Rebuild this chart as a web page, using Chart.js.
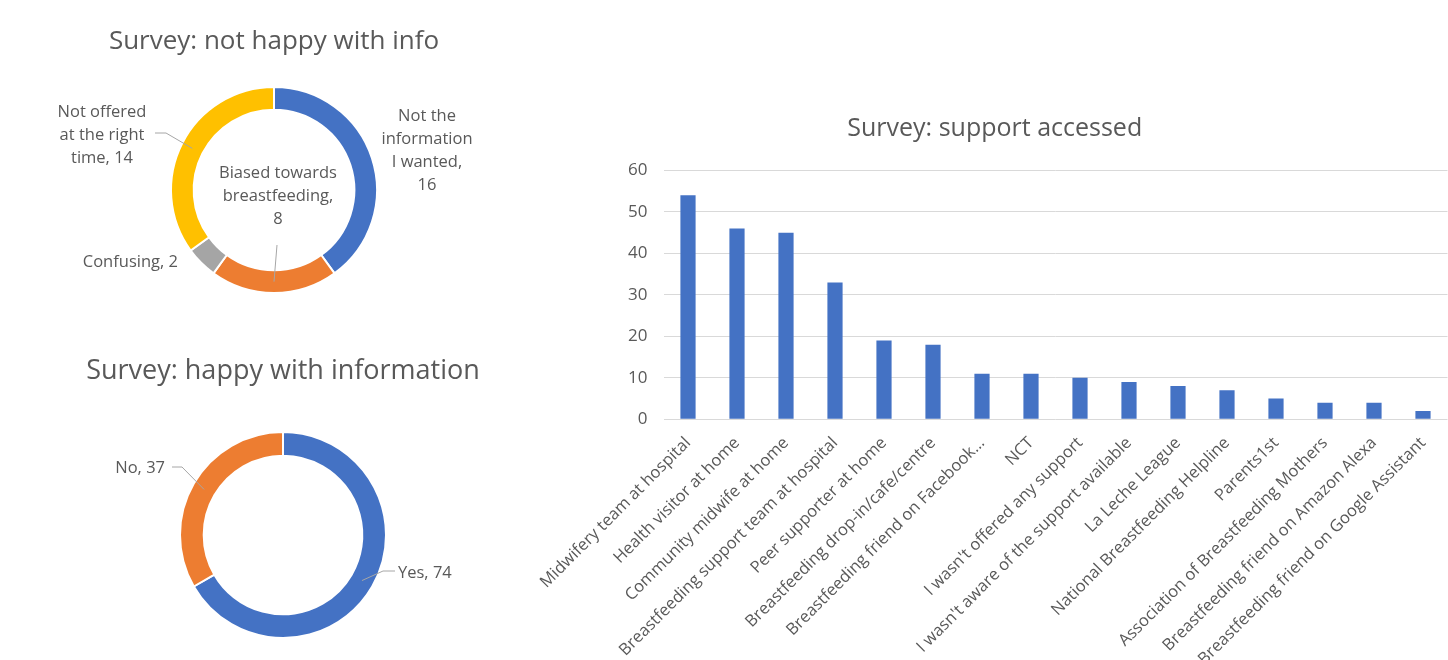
<!DOCTYPE html>
<html>
<head>
<meta charset="utf-8">
<title>Survey results</title>
<script src="https://cdn.jsdelivr.net/npm/chart.js@4"></script>
<style>
	html, body { margin: 0; padding: 0; background: #ffffff; }
	#page { position: relative; width: 1448px; height: 660px; overflow: hidden; background: #ffffff; }
	canvas { position: absolute; }
	#not-happy-chart { left: 0; top: 0; }
	#happy-chart { left: 0; top: 330px; }
	#support-chart { left: 520px; top: 100px; }
</style>
</head>
<body>
<div id="page">
	<canvas id="support-chart" width="928" height="560"></canvas>
	<canvas id="not-happy-chart" width="548" height="330"></canvas>
	<canvas id="happy-chart" width="566" height="330"></canvas>
</div>

<script>
// Survey data
const notHappyLabels = ['Not the information I wanted', 'Biased towards breastfeeding', 'Confusing', 'Not offered at the right time'];
const notHappyValues = [16, 8, 2, 14];

const happyLabels = ['Yes', 'No'];
const happyValues = [74, 37];

const supportLabels = [
	'Midwifery team at hospital',
	'Health visitor at home',
	'Community midwife at home',
	'Breastfeeding support team at hospital',
	'Peer supporter at home',
	'Breastfeeding drop-in/cafe/centre',
	'Breastfeeding friend on Facebook...',
	'NCT',
	'I wasn\'t offered any support',
	'I wasn\'t aware of the support available',
	'La Leche League',
	'National Breastfeeding Helpline',
	'Parents1st',
	'Association of Breastfeeding Mothers',
	'Breastfeeding friend on Amazon Alexa',
	'Breastfeeding friend on Google Assistant'
];
const supportValues = [54, 46, 45, 33, 19, 18, 11, 11, 10, 9, 8, 7, 5, 4, 4, 2];

const supportTicks = [0, 10, 20, 30, 40, 50, 60];

const BLUE = '#4472C4';
const ORANGE = '#ED7D31';
const GREY = '#A5A5A5';
const YELLOW = '#FFC000';
const TEXT = '#595959';

Chart.defaults.font.family = '"Open Sans", sans-serif';
Chart.defaults.color = TEXT;

/**
 * Break a label into lines no wider than maxWidth
 */
function wrapLines(ctx, text, maxWidth) {
	const words = text.split(' ');
	const lines = [];
	let cur = '';
	for (const w of words) {
		const t = cur ? cur + ' ' + w : w;
		if (cur && ctx.measureText(t).width > maxWidth) {
			lines.push(cur);
			cur = w;
		} else {
			cur = t;
		}
	}
	if (cur) lines.push(cur);
	return lines;
}

/**
 * Draws "label, value" next to each slice, with optional leader lines
 */
const sliceLabels = {
	id: 'sliceLabels',
	afterDatasetsDraw(chart, args, opts) {
		const ctx = chart.ctx;
		const meta = chart.getDatasetMeta(0);
		const values = chart.data.datasets[0].data;
		const lh = opts.lineHeight;

		ctx.save();
		ctx.font = `${opts.size}px "Open Sans", sans-serif`;
		ctx.fillStyle = TEXT;
		ctx.strokeStyle = '#a6a6a6';
		ctx.lineWidth = 1;
		ctx.textBaseline = 'middle';

		meta.data.forEach((arc, i) => {
			const place = opts.placement[i];
			const cx = arc.x;
			const cy = arc.y;
			const name = chart.data.labels[i];

			let lines;
			if (place.valueBreak) {
				lines = wrapLines(ctx, name + ',', place.maxWidth);
				lines.push(String(values[i]));
			} else {
				lines = wrapLines(ctx, `${name}, ${values[i]}`, place.maxWidth);
			}

			if (place.leader) {
				const end = arc.tooltipPosition(true);
				ctx.beginPath();
				ctx.moveTo(cx + place.leader[0][0], cy + place.leader[0][1]);
				for (let k = 1; k < place.leader.length; k++) {
					ctx.lineTo(cx + place.leader[k][0], cy + place.leader[k][1]);
				}
				ctx.lineTo(end.x, end.y);
				ctx.stroke();
			}

			ctx.textAlign = place.align;
			const top = cy + place.dy - (lines.length - 1) * lh / 2;
			lines.forEach((ln, k) => ctx.fillText(ln, cx + place.dx, top + k * lh));
		});
		ctx.restore();
	}
};

function doughnutConfig(labels, values, colors, opts) {
	return {
		type: 'doughnut',
		data: {
			labels: labels,
			datasets: [{
				data: values,
				backgroundColor: colors,
				borderColor: '#ffffff',
				borderWidth: 2,
				hoverOffset: 0,
				radius: 103,
				cutout: opts.cutout
			}]
		},
		options: {
			responsive: false,
			animation: false,
			layout: { padding: { bottom: opts.padBottom } },
			plugins: {
				legend: { display: false },
				tooltip: { enabled: false },
				title: {
					display: true,
					text: opts.title,
					color: TEXT,
					font: { size: opts.titleSize, weight: 'normal' },
					padding: opts.titlePadding
				},
				sliceLabels: {
					size: 16.5,
					lineHeight: 23,
					placement: opts.placement
				}
			}
		},
		plugins: [sliceLabels]
	};
}

function initNotHappy() {
	const ctx = document.getElementById('not-happy-chart').getContext('2d');
	new Chart(ctx, doughnutConfig(notHappyLabels, notHappyValues, [BLUE, ORANGE, GREY, YELLOW], {
		title: 'Survey: not happy with info',
		titleSize: 26,
		titlePadding: { top: 26, bottom: 18.4 },
		padBottom: 25.6,
		cutout: '78%',
		placement: [
			{ dx: 153, dy: -39, align: 'center', maxWidth: 92, valueBreak: true },
			{ dx: 4, dy: 6, align: 'center', maxWidth: 125, valueBreak: true, leader: [[3, 55]] },
			{ dx: -96, dy: 72, align: 'right', maxWidth: 200 },
			{ dx: -172, dy: -55, align: 'center', maxWidth: 96, leader: [[-119, -57], [-108, -57]] }
		]
	}));
}

function initHappy() {
	const ctx = document.getElementById('happy-chart').getContext('2d');
	new Chart(ctx, doughnutConfig(happyLabels, happyValues, [BLUE, ORANGE], {
		title: 'Survey: happy with information',
		titleSize: 27,
		titlePadding: { top: 24.8, bottom: 22.8 },
		padBottom: 0,
		cutout: '77%',
		placement: [
			{ dx: 115, dy: 38, align: 'left', maxWidth: 200, leader: [[112, 36], [100, 36]] },
			{ dx: -118, dy: -67, align: 'right', maxWidth: 200, leader: [[-111, -68], [-101, -68]] }
		]
	}));
}

function initSupport() {
	const ctx = document.getElementById('support-chart').getContext('2d');
	new Chart(ctx, {
		type: 'bar',
		data: {
			labels: supportLabels,
			datasets: [{
				data: supportValues,
				backgroundColor: BLUE,
				barPercentage: 0.31,
				categoryPercentage: 1
			}]
		},
		options: {
			responsive: false,
			animation: false,
			layout: { padding: { left: 22, right: 0.5 } },
			plugins: {
				legend: { display: false },
				tooltip: { enabled: false },
				title: {
					display: true,
					text: 'Survey: support accessed',
					color: TEXT,
					font: { size: 25, weight: 'normal' },
					padding: { top: 13.5, bottom: 26.9 }
				}
			},
			scales: {
				x: {
					grid: { display: false },
					border: { display: false },
					ticks: {
						autoSkip: false,
						minRotation: 45,
						maxRotation: 45,
						padding: 6,
						color: TEXT,
						font: { size: 16.5 }
					},
					afterFit(scale) {
						scale.height = 240.7;
						scale.paddingLeft = 0;
						scale.paddingRight = 0;
					}
				},
				y: {
					min: supportTicks[0],
					max: supportTicks[supportTicks.length - 1],
					grid: { color: '#d9d9d9', drawTicks: false },
					border: { display: false },
					afterBuildTicks(scale) {
						scale.ticks = supportTicks.map(v => ({ value: v }));
					},
					ticks: {
						padding: 16,
						color: TEXT,
						font: { size: 17 }
					},
					afterFit(scale) {
						scale.width = 121.5;
					}
				}
			}
		}
	});
}

function init() {
	initSupport();
	initNotHappy();
	initHappy();
}

document.addEventListener('DOMContentLoaded', init);
</script>
</body>
</html>
